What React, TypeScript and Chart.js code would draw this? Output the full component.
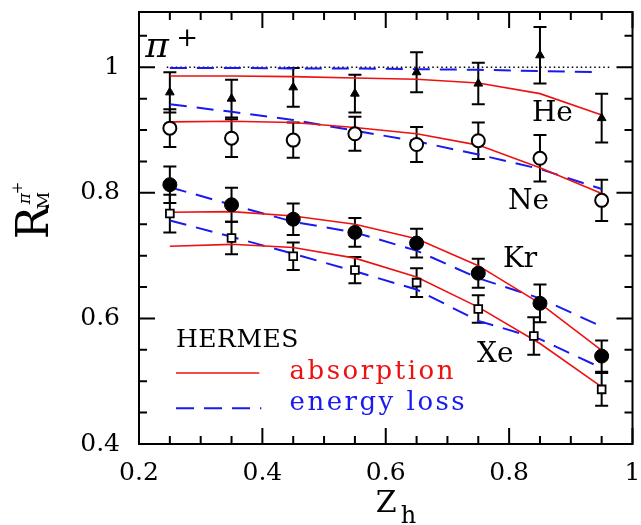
import React, { useEffect, useRef } from "react";
import { Chart, registerables } from "chart.js";

Chart.register(...registerables);

const zh = [0.25, 0.35, 0.45, 0.55, 0.65, 0.75, 0.85, 0.95];
const zhXe = [0.25, 0.35, 0.45, 0.55, 0.65, 0.75, 0.84, 0.95];

const dataHe = [0.96, 0.95, 0.968, 0.958, 0.992, 0.974, 1.019, 0.919];
const errHe = [0.032, 0.03, 0.031, 0.03, 0.032, 0.033, 0.045, 0.039];
const dataNe = [0.903, 0.887, 0.884, 0.894, 0.877, 0.883, 0.855, 0.788];
const errNe = [0.03, 0.03, 0.028, 0.027, 0.028, 0.029, 0.037, 0.033];
const dataKr = [0.813, 0.781, 0.758, 0.737, 0.72, 0.672, 0.624, 0.54];
const errKr = [0.029, 0.027, 0.025, 0.023, 0.023, 0.023, 0.03, 0.025];
const dataXe = [0.767, 0.728, 0.699, 0.677, 0.657, 0.615, 0.572, 0.487];
const errXe = [0.03, 0.026, 0.022, 0.021, 0.023, 0.022, 0.03, 0.026];

const absHe = [0.986, 0.986, 0.985, 0.983, 0.981, 0.975, 0.958, 0.924];
const absNe = [0.913, 0.914, 0.912, 0.904, 0.894, 0.876, 0.84, 0.799];
const absKr = [0.769, 0.77, 0.763, 0.75, 0.727, 0.684, 0.624, 0.549];
const absXe = [0.715, 0.718, 0.713, 0.696, 0.666, 0.618, 0.56, 0.491];

const elHe = [0.999, 0.999, 0.998, 0.998, 0.997, 0.996, 0.994, 0.992];
const elNe = [0.941, 0.929, 0.916, 0.899, 0.882, 0.861, 0.838, 0.806];
const elKr = [0.809, 0.781, 0.754, 0.737, 0.708, 0.664, 0.632, 0.587];
const elXe = [0.756, 0.73, 0.703, 0.675, 0.646, 0.596, 0.567, 0.521];

const unityX = [0.245, 0.965];
const unityY = [1, 1];

const xMajorTicks = [0.2, 0.4, 0.6, 0.8, 1.0];
const xMinorTicks = [0.25, 0.3, 0.35, 0.45, 0.5, 0.55, 0.65, 0.7, 0.75, 0.85, 0.9, 0.95];
const yMajorTicks = [0.4, 0.6, 0.8, 1.0];
const yMinorTicks = [0.45, 0.5, 0.55, 0.65, 0.7, 0.75, 0.85, 0.9, 0.95, 1.05];

const nucleusLabels = ["He", "Ne", "Kr", "Xe"];
const nucleusLabelX = [0.837, 0.798, 0.79, 0.748];
const nucleusLabelY = [0.914, 0.774, 0.682, 0.53];

const RED = "#ee1111";
const BLUE = "#1a1aee";
const SERIF = "'DejaVu Serif', serif";

function pts(xs: number[], ys: number[]) {
  return xs.map((x, i) => ({ x, y: ys[i] }));
}

const errorBars = {
  id: "errorBars",
  beforeDatasetsDraw(chart: any) {
    const { ctx, scales } = chart;
    const x = scales.x;
    const y = scales.y;
    ctx.save();
    ctx.strokeStyle = "#000";
    ctx.lineWidth = 2;
    chart.data.datasets.forEach((ds: any) => {
      if (!ds.errors) return;
      ds.data.forEach((p: any, i: number) => {
        const e = ds.errors[i];
        const px = x.getPixelForValue(p.x);
        const y1 = y.getPixelForValue(p.y + e);
        const y2 = y.getPixelForValue(p.y - e);
        ctx.beginPath();
        ctx.moveTo(px, y1);
        ctx.lineTo(px, y2);
        ctx.moveTo(px - 6.5, y1);
        ctx.lineTo(px + 6.5, y1);
        ctx.moveTo(px - 6.5, y2);
        ctx.lineTo(px + 6.5, y2);
        ctx.stroke();
      });
    });
    ctx.restore();
  },
};

const decorations = {
  id: "decorations",
  afterDraw(chart: any) {
    const { ctx, chartArea: a, scales } = chart;
    const x = scales.x;
    const y = scales.y;
    ctx.save();
    // frame
    ctx.strokeStyle = "#000";
    ctx.lineWidth = 2;
    ctx.strokeRect(a.left, a.top, a.right - a.left, a.bottom - a.top);
    // inward ticks
    const tick = (vals: number[], len: number, horiz: boolean) => {
      vals.forEach((v) => {
        ctx.beginPath();
        if (horiz) {
          const px = x.getPixelForValue(v);
          ctx.moveTo(px, a.bottom);
          ctx.lineTo(px, a.bottom - len);
          ctx.moveTo(px, a.top);
          ctx.lineTo(px, a.top + len);
        } else {
          const py = y.getPixelForValue(v);
          ctx.moveTo(a.left, py);
          ctx.lineTo(a.left + len, py);
          ctx.moveTo(a.right, py);
          ctx.lineTo(a.right - len, py);
        }
        ctx.stroke();
      });
    };
    tick(xMajorTicks, 16, true);
    tick(xMinorTicks, 8, true);
    tick(yMajorTicks, 16, false);
    tick(yMinorTicks, 8, false);

    // nucleus labels
    ctx.fillStyle = "#000";
    ctx.textBaseline = "alphabetic";
    ctx.textAlign = "left";
    ctx.font = `28px ${SERIF}`;
    nucleusLabels.forEach((t, i) => {
      ctx.fillText(t, x.getPixelForValue(nucleusLabelX[i]), y.getPixelForValue(nucleusLabelY[i]));
    });

    // pi+
    const piX = x.getPixelForValue(0.21);
    const piY = y.getPixelForValue(1.016);
    ctx.font = `italic 36px ${SERIF}`;
    ctx.fillText("π", piX, piY);
    ctx.font = `26px ${SERIF}`;
    ctx.fillText("+", piX + 31, piY - 11);

    // HERMES legend
    const lx1 = x.getPixelForValue(0.26);
    const lx2 = x.getPixelForValue(0.395);
    const tx = x.getPixelForValue(0.444);
    (ctx as any).letterSpacing = "0.5px";
    ctx.font = `25px ${SERIF}`;
    ctx.fillText("HERMES", lx1, y.getPixelForValue(0.554));
    (ctx as any).letterSpacing = "2.5px";
    ctx.font = `26px ${SERIF}`;
    ctx.fillStyle = RED;
    ctx.fillText("absorption", tx, y.getPixelForValue(0.503));
    ctx.fillStyle = BLUE;
    ctx.fillText("energy loss", tx, y.getPixelForValue(0.454));
    (ctx as any).letterSpacing = "0px";

    ctx.lineWidth = 1.6;
    ctx.strokeStyle = RED;
    ctx.beginPath();
    const ry = y.getPixelForValue(0.513);
    ctx.moveTo(lx1, ry);
    ctx.lineTo(lx2, ry);
    ctx.stroke();
    ctx.strokeStyle = BLUE;
    ctx.lineWidth = 2;
    ctx.setLineDash([18, 10]);
    const by = y.getPixelForValue(0.457);
    ctx.beginPath();
    ctx.moveTo(lx1, by);
    ctx.lineTo(lx2 + 2, by);
    ctx.stroke();
    ctx.setLineDash([]);

    // x title Z_h
    ctx.fillStyle = "#000";
    const cx = (a.left + a.right) / 2;
    ctx.font = `30px ${SERIF}`;
    ctx.fillText("Z", cx - 10, a.bottom + 68);
    ctx.font = `24px ${SERIF}`;
    ctx.fillText("h", cx + 15, a.bottom + 79);

    // y title R_M^{pi+}
    const ty = y.getPixelForValue(0.726);
    ctx.translate(48, ty);
    ctx.rotate(-Math.PI / 2);
    ctx.font = `44px ${SERIF}`;
    ctx.fillText("R", 0, 0);
    ctx.font = `17px ${SERIF}`;
    ctx.fillText("M", 30, 1);
    ctx.font = `italic 17px ${SERIF}`;
    ctx.fillText("π", 35, -18);
    ctx.font = `15px ${SERIF}`;
    ctx.fillText("+", 45, -26);
    ctx.restore();
  },
};

function lineDs(xs: number[], ys: number[], color: string, dashed: boolean) {
  return {
    data: pts(xs, ys),
    showLine: true,
    borderColor: color,
    borderWidth: dashed ? 2 : 1.6,
    borderDash: dashed ? [17, 10] : [],
    pointRadius: 0,
    fill: false,
    tension: 0,
    order: 2,
  };
}

function markerDs(xs: number[], ys: number[], errs: number[], style: string, radius: number, filled: boolean, bw: number) {
  return {
    data: pts(xs, ys),
    errors: errs,
    showLine: false,
    pointStyle: style,
    pointRadius: radius,
    pointBackgroundColor: filled ? "#000" : "#fff",
    pointBorderColor: "#000",
    pointBorderWidth: bw,
    order: 0,
  };
}

export default function App() {
  const ref = useRef<HTMLCanvasElement | null>(null);
  useEffect(() => {
    if (!ref.current) return;
    const chart = new Chart(ref.current, {
      type: "scatter",
      data: {
        datasets: [
          markerDs(zh, dataHe, errHe, "triangle", 5, true, 1),
          markerDs(zh, dataNe, errNe, "circle", 6.5, false, 2),
          markerDs(zh, dataKr, errKr, "circle", 7, true, 1),
          markerDs(zhXe, dataXe, errXe, "rect", 5.5, false, 1.8),
          lineDs(zh, absHe, RED, false),
          lineDs(zh, absNe, RED, false),
          lineDs(zh, absKr, RED, false),
          lineDs(zh, absXe, RED, false),
          lineDs(zh, elHe, BLUE, true),
          lineDs(zh, elNe, BLUE, true),
          lineDs(zh, elKr, BLUE, true),
          lineDs(zh, elXe, BLUE, true),
          {
            data: pts(unityX, unityY),
            showLine: true,
            borderColor: "#000",
            borderWidth: 1.5,
            borderDash: [1.5, 3],
            pointRadius: 0,
            order: 3,
          },
        ] as any,
      },
      options: {
        animation: false,
        responsive: false,
        maintainAspectRatio: false,
        layout: { padding: { top: 12, left: 0, right: 0, bottom: 0 } },
        plugins: { legend: { display: false }, tooltip: { enabled: false } },
        scales: {
          x: {
            type: "linear",
            min: 0.2,
            max: 1.0,
            grid: { display: false, drawTicks: false },
            border: { display: false },
            afterBuildTicks: (s: any) => {
              s.ticks = xMajorTicks.map((v) => ({ value: v }));
            },
            afterFit: (s: any) => {
              s.height = 81;
              s.paddingLeft = 0;
              s.paddingRight = 6;
            },
            ticks: {
              autoSkip: false,
              maxRotation: 0,
              padding: 14,
              color: "#000",
              font: { family: SERIF, size: 25 },
              callback: (v: any) => String(Number(Number(v).toFixed(2))),
            },
          },
          y: {
            type: "linear",
            min: 0.4,
            max: 1.088,
            grid: { display: false, drawTicks: false },
            border: { display: false },
            afterBuildTicks: (s: any) => {
              s.ticks = yMajorTicks.map((v) => ({ value: v }));
            },
            afterFit: (s: any) => {
              s.width = 139;
              s.paddingTop = 0;
              s.paddingBottom = 0;
            },
            ticks: {
              autoSkip: false,
              padding: 19,
              color: "#000",
              font: { family: SERIF, size: 25 },
              callback: (v: any) => String(Number(Number(v).toFixed(2))),
            },
          },
        },
      },
      plugins: [errorBars, decorations],
    });
    return () => chart.destroy();
  }, []);
  return (
    <div style={{ position: "fixed", left: 0, top: 0, width: 641, height: 525, background: "#fff" }}>
      <canvas ref={ref} width={641} height={525} />
    </div>
  );
}
